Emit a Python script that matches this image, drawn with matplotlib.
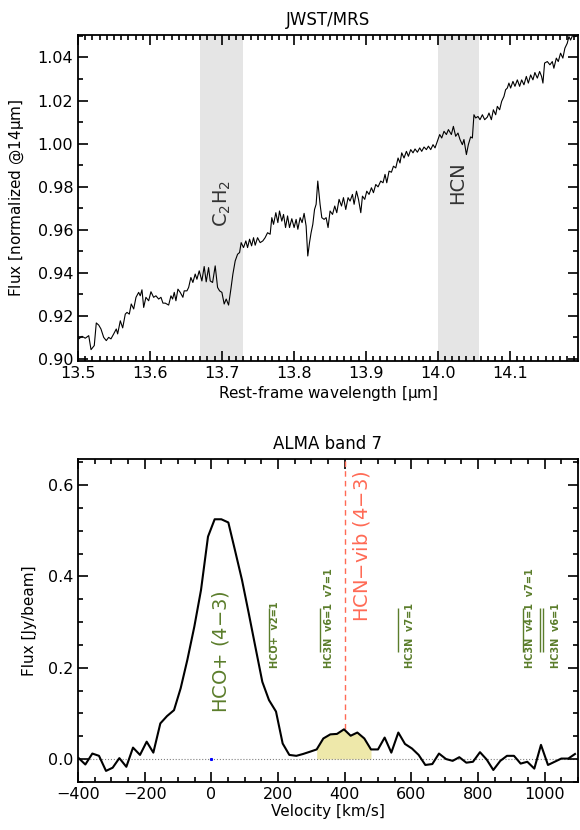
import matplotlib
matplotlib.use("Agg")
import matplotlib.pyplot as plt
from matplotlib.ticker import MultipleLocator
import numpy as np

# JWST/MRS spectrum
wave = [13.5010, 13.5056, 13.5101, 13.5149, 13.5181, 13.5226, 13.5254, 13.5288, 13.5319, 13.5357,
        13.5393, 13.5426, 13.5458, 13.5496, 13.5532, 13.5551, 13.5588, 13.5621, 13.5657, 13.5681,
        13.5713, 13.5740, 13.5774, 13.5806, 13.5843, 13.5865, 13.5889, 13.5913, 13.5944, 13.5982,
        13.6014, 13.6051, 13.6083, 13.6121, 13.6153, 13.6181, 13.6213, 13.6260, 13.6292, 13.6315,
        13.6338, 13.6361, 13.6389, 13.6421, 13.6458, 13.6476, 13.6514, 13.6538, 13.6569, 13.6597,
        13.6629, 13.6653, 13.6685, 13.6722, 13.6754, 13.6782, 13.6815, 13.6838, 13.6871, 13.6907,
        13.6940, 13.6968, 13.7000, 13.7032, 13.7060, 13.7093, 13.7125, 13.7153, 13.7185, 13.7218,
        13.7246, 13.7268, 13.7301, 13.7333, 13.7357, 13.7385, 13.7413, 13.7440, 13.7463, 13.7496,
        13.7532, 13.7569, 13.7601, 13.7635, 13.7671, 13.7694, 13.7718, 13.7750, 13.7778, 13.7801,
        13.7833, 13.7857, 13.7885, 13.7913, 13.7940, 13.7972, 13.8004, 13.8032, 13.8056, 13.8088,
        13.8115, 13.8143, 13.8171, 13.8194, 13.8218, 13.8240, 13.8264, 13.8288, 13.8310, 13.8333,
        13.8365, 13.8389, 13.8421, 13.8449, 13.8476, 13.8504, 13.8538, 13.8569, 13.8597, 13.8629,
        13.8663, 13.8690, 13.8722, 13.8754, 13.8782, 13.8815, 13.8838, 13.8871, 13.8899, 13.8931,
        13.8954, 13.8986, 13.9014, 13.9046, 13.9079, 13.9107, 13.9139, 13.9171, 13.9208, 13.9240,
        13.9268, 13.9292, 13.9324, 13.9357, 13.9385, 13.9417, 13.9449, 13.9476, 13.9500, 13.9532,
        13.9565, 13.9593, 13.9625, 13.9657, 13.9685, 13.9718, 13.9750, 13.9778, 13.9810, 13.9843,
        13.9871, 13.9903, 13.9935, 13.9963, 13.9996, 14.0028, 14.0056, 14.0088, 14.0121, 14.0149,
        14.0190, 14.0218, 14.0250, 14.0282, 14.0310, 14.0343, 14.0365, 14.0399, 14.0426, 14.0458,
        14.0482, 14.0504, 14.0528, 14.0560, 14.0588, 14.0621, 14.0653, 14.0690, 14.0713, 14.0746,
        14.0774, 14.0806, 14.0829, 14.0861, 14.0889, 14.0921, 14.0944, 14.0968, 14.0990, 14.1014,
        14.1046, 14.1074, 14.1107, 14.1139, 14.1167, 14.1199, 14.1232, 14.1260, 14.1292, 14.1324,
        14.1351, 14.1385, 14.1417, 14.1444, 14.1463, 14.1486, 14.1524, 14.1560, 14.1593, 14.1615,
        14.1649, 14.1676, 14.1708, 14.1740, 14.1768, 14.1801, 14.1824, 14.1847, 14.1879, 14.1917,
        14.1963]
flux_mrs = [0.9093, 0.9105, 0.9096, 0.9108, 0.9043, 0.9062, 0.9167, 0.9157, 0.9139, 0.9100,
            0.9085, 0.9100, 0.9093, 0.9116, 0.9139, 0.9116, 0.9177, 0.9144, 0.9208, 0.9216,
            0.9208, 0.9255, 0.9232, 0.9286, 0.9309, 0.9293, 0.9321, 0.9239, 0.9286, 0.9270,
            0.9312, 0.9286, 0.9293, 0.9278, 0.9286, 0.9259, 0.9259, 0.9250, 0.9293, 0.9278,
            0.9309, 0.9270, 0.9324, 0.9309, 0.9286, 0.9316, 0.9316, 0.9332, 0.9378, 0.9355,
            0.9394, 0.9370, 0.9409, 0.9362, 0.9429, 0.9358, 0.9424, 0.9362, 0.9355, 0.9432,
            0.9332, 0.9316, 0.9309, 0.9255, 0.9278, 0.9250, 0.9324, 0.9394, 0.9455, 0.9486,
            0.9494, 0.9540, 0.9517, 0.9548, 0.9517, 0.9556, 0.9525, 0.9563, 0.9528, 0.9563,
            0.9540, 0.9548, 0.9563, 0.9586, 0.9579, 0.9656, 0.9625, 0.9679, 0.9633, 0.9687,
            0.9640, 0.9671, 0.9610, 0.9664, 0.9610, 0.9651, 0.9610, 0.9648, 0.9602, 0.9656,
            0.9633, 0.9676, 0.9617, 0.9478, 0.9540, 0.9586, 0.9625, 0.9694, 0.9718, 0.9826,
            0.9718, 0.9656, 0.9648, 0.9656, 0.9610, 0.9687, 0.9671, 0.9710, 0.9679, 0.9741,
            0.9710, 0.9749, 0.9694, 0.9749, 0.9733, 0.9764, 0.9718, 0.9779, 0.9741, 0.9679,
            0.9756, 0.9741, 0.9779, 0.9764, 0.9795, 0.9772, 0.9810, 0.9799, 0.9826, 0.9818,
            0.9857, 0.9818, 0.9872, 0.9867, 0.9895, 0.9887, 0.9933, 0.9910, 0.9957, 0.9933,
            0.9964, 0.9941, 0.9972, 0.9957, 0.9975, 0.9960, 0.9980, 0.9964, 0.9984, 0.9972,
            0.9988, 0.9972, 0.9995, 0.9980, 1.0011, 1.0042, 1.0026, 1.0057, 1.0042, 1.0065,
            1.0042, 1.0080, 1.0034, 1.0049, 1.0019, 0.9995, 1.0019, 0.9949, 0.9995, 1.0031,
            1.0026, 1.0134, 1.0119, 1.0126, 1.0111, 1.0134, 1.0111, 1.0123, 1.0142, 1.0111,
            1.0157, 1.0134, 1.0173, 1.0157, 1.0196, 1.0219, 1.0250, 1.0258, 1.0281, 1.0258,
            1.0289, 1.0266, 1.0296, 1.0266, 1.0296, 1.0273, 1.0312, 1.0281, 1.0319, 1.0296,
            1.0330, 1.0304, 1.0335, 1.0312, 1.0281, 1.0374, 1.0381, 1.0366, 1.0381, 1.0350,
            1.0397, 1.0381, 1.0420, 1.0397, 1.0443, 1.0466, 1.0497, 1.0481, 1.0505, 1.0497,
            1.0520]

bands = [(13.67, 13.73), (14.0, 14.057)]
band_labels = ["C$_2$H$_2$", "HCN"]

# ALMA band 7 spectrum
vel = [-398, -378, -357, -337, -316, -296, -276, -255, -235, -214,
       -194, -174, -153, -133, -112, -92, -72, -51, -31, -10,
       10, 30, 51, 71, 92, 112, 132, 153, 173, 194,
       214, 234, 255, 275, 296, 316, 336, 357, 377, 398,
       418, 438, 459, 479, 500, 520, 540, 561, 581, 602,
       622, 642, 663, 683, 704, 724, 744, 765, 785, 806,
       826, 846, 867, 887, 908, 928, 948, 969, 989, 1010,
       1030, 1050, 1071, 1091]
flux_alma = [0.002, -0.012, 0.012, 0.007, -0.026, -0.019, 0.002, -0.017, 0.025, 0.009,
             0.038, 0.014, 0.078, 0.094, 0.107, 0.155, 0.217, 0.290, 0.370, 0.487,
             0.525, 0.525, 0.518, 0.457, 0.392, 0.320, 0.246, 0.169, 0.129, 0.104,
             0.034, 0.009, 0.007, 0.011, 0.016, 0.021, 0.045, 0.054, 0.055, 0.065,
             0.051, 0.058, 0.045, 0.021, 0.021, 0.047, 0.014, 0.058, 0.033, 0.023,
             0.009, -0.013, -0.011, 0.012, 0.000, -0.004, 0.004, -0.008, -0.006, 0.015,
             -0.001, -0.024, -0.004, 0.007, 0.007, -0.010, -0.006, -0.021, 0.031, -0.013,
             -0.006, 0.001, 0.001, 0.011]

fill_range = (316, 479)
hcn_vib_v = 400

# small line markers: line velocities, label velocities, labels
marker_v = [173, 326, 561, 934, 986, 994]
label_v = [190, 353, 596, 956, 1035]
label_txt = ["HCO+  v2=1", "HC3N  v6=1  v7=1", "HC3N  v7=1", "HC3N  v4=1  v7=1", "HC3N  v6=1"]

green = "#5b7d2b"
red = "#ff6a55"

plt.rcParams["font.family"] = "DejaVu Sans"
plt.rcParams["mathtext.default"] = "regular"

fig = plt.figure(figsize=(5.8, 8.3), dpi=100)
ax1 = fig.add_axes([0.1345, 0.565, 0.862, 0.393])
ax2 = fig.add_axes([0.1345, 0.058, 0.862, 0.389])


def style(ax, xmaj, xmin, ymaj, ymin):
    ax.xaxis.set_major_locator(MultipleLocator(xmaj))
    ax.xaxis.set_minor_locator(MultipleLocator(xmin))
    ax.yaxis.set_major_locator(MultipleLocator(ymaj))
    ax.yaxis.set_minor_locator(MultipleLocator(ymin))
    ax.tick_params(which="both", direction="in", top=True, right=True, labelsize=11.5, width=1.2)
    ax.tick_params(which="major", length=7)
    ax.tick_params(which="minor", length=3.5)
    for s in ax.spines.values():
        s.set_linewidth(1.3)


# top panel
for (a, b) in bands:
    ax1.axvspan(a, b, color="#e5e5e5", lw=0, zorder=0)
ax1.plot(wave, flux_mrs, color="black", lw=0.8)
ax1.set_xlim(13.5, 14.195)
ax1.set_ylim(0.899, 1.0505)
style(ax1, 0.1, 0.01, 0.02, 0.01)
ax1.text(13.7, 0.972, band_labels[0], rotation=90, ha="center", va="center",
         fontsize=14, color="#333333")
ax1.text(14.028, 0.982, band_labels[1], rotation=90, ha="center", va="center",
         fontsize=14, color="#333333")
ax1.set_title("JWST/MRS", fontsize=12, pad=7)
ax1.set_xlabel("Rest-frame wavelength [$\\mu$m]", fontsize=11, labelpad=2)
ax1.set_ylabel("Flux [normalized @14$\\mu$m]", fontsize=11, labelpad=8)

# bottom panel
vel_a = np.array(vel)
flux_a = np.array(flux_alma)
sel = (vel_a >= fill_range[0]) & (vel_a <= fill_range[1])
ax2.fill_between(vel_a[sel], 0, flux_a[sel], color="#eee8aa", lw=0, zorder=1)
ax2.axhline(0, color="gray", ls=":", lw=0.8, zorder=1)
ax2.plot([0], [0], marker="s", ms=1.2, color="blue", zorder=2)
ax2.plot(vel, flux_alma, color="black", lw=1.5, zorder=3)
ax2.set_xlim(-400, 1100)
ax2.set_ylim(-0.05, 0.657)
peak_at = flux_a[np.argmin(np.abs(vel_a - hcn_vib_v))]
ax2.vlines(hcn_vib_v, peak_at, 0.657, colors=red, linestyles=(0, (4, 3)), lw=1.0, zorder=2)
ax2.text(452, 0.30, "HCN$-$vib (4$-$3)", rotation=90, ha="center", va="bottom",
         fontsize=14, color=red)
ax2.text(29, 0.10, "HCO+ (4$-$3)", rotation=90, ha="center", va="bottom",
         fontsize=14, color=green)
ax2.vlines(marker_v, 0.234, 0.330, colors=green, lw=1.0)
for v, t in zip(label_v, label_txt):
    ax2.text(v, 0.199, t, rotation=90, ha="center", va="bottom", fontsize=7,
             color=green, fontweight="bold")
style(ax2, 200, 50, 0.2, 0.05)
ax2.set_title("ALMA band 7", fontsize=12, pad=7)
ax2.set_xlabel("Velocity [km/s]", fontsize=11, labelpad=2)
ax2.set_ylabel("Flux [Jy/beam]", fontsize=11, labelpad=8)

fig.savefig("out.png", dpi=100)
